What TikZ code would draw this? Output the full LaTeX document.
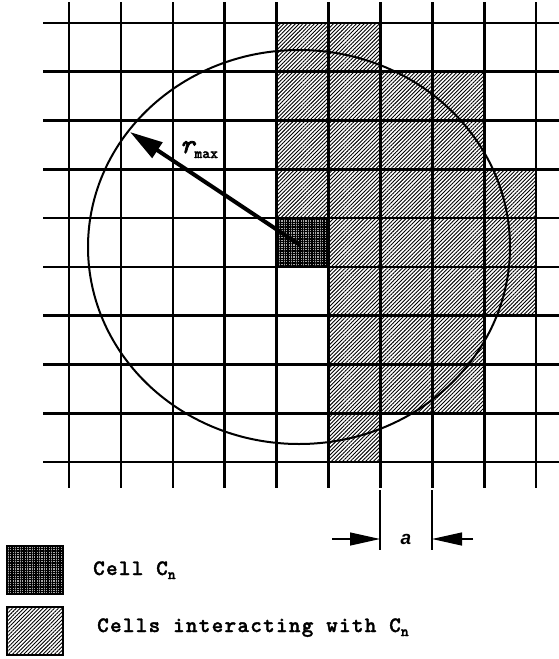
\documentclass[tikz,border=0pt]{standalone}
\usepackage{fontspec}
\usetikzlibrary{patterns.meta,arrows.meta}
\newfontfamily\courf{lmmonolt10-bold.otf}[FakeBold=1.5]
\newfontfamily\courls{lmmonolt10-bold.otf}[FakeBold=1.5,LetterSpace=6]
\newfontfamily\couri{lmmono10-italic.otf}[FakeBold=3]
\newfontfamily\sansf{Liberation Sans}
\tikzset{
  gridline/.style={line width=2.6pt},
  hatchcell/.style={pattern={Lines[angle=45,distance=2.7pt,line width=0.9pt]}},
  darkbase/.style={fill=black!35},
  darkcell/.style={pattern={Hatch[distance=2.4pt,line width=1.3pt]}},
  legbox/.style={line width=1.6pt},
  bigarrow/.style={line width=4pt,-{Triangle[length=33pt,width=18pt]}},
  dimarrow/.style={line width=1.2pt,-{Triangle[length=30pt,width=13pt]}},
  dimtick/.style={line width=1.5pt},
  legtext/.style={anchor=base west,inner sep=0pt,font=\courls\fontsize{22}{22}\selectfont},
}
\newcommand{\subn}{\raisebox{-4pt}{\courf\fontsize{15}{15}\selectfont n}}
\begin{document}
\begin{tikzpicture}[x=1pt,y=-1pt]
\useasboundingbox (0,0) rectangle (559,659);
% hatched cells
\foreach \i/\j in {4/0,5/0,
  4/1,5/1,6/1,7/1,
  4/2,5/2,6/2,7/2,
  4/3,5/3,6/3,7/3,8/3,
  5/4,6/4,7/4,8/4,
  5/5,6/5,7/5,8/5,
  5/6,6/6,7/6,
  5/7,6/7,7/7,
  5/8}
  \fill[hatchcell] ({69+51.9*\i},{23+48.78*\j}) rectangle ({69+51.9*(\i+1)},{23+48.78*(\j+1)});
% the cell C_n
\fill[darkbase] ({69+51.9*4},{23+48.78*4}) rectangle ({69+51.9*5},{23+48.78*5});
\fill[darkcell] ({69+51.9*4},{23+48.78*4}) rectangle ({69+51.9*5},{23+48.78*5});
% grid
\foreach \i in {0,...,9}
  \draw[gridline] ({69+51.9*\i},2) -- ({69+51.9*\i},488);
\foreach \j in {0,...,9}
  \draw[gridline] (43,{23+48.78*\j}) -- (559,{23+48.78*\j});
% interaction ellipse
\draw[line width=2pt] (299,247) ellipse [x radius=211, y radius=197];
% r_max arrow
\coordinate (cn) at (300,245);
\coordinate (tip) at (130,132);
\draw[bigarrow] (cn) -- (tip);
\node[anchor=base west,inner sep=0pt] (rmax) at (180,153)
  {{\couri\fontsize{27}{27}\selectfont r}\raisebox{-5pt}{\courf\fontsize{15}{15}\selectfont max}};
% dimension a
\coordinate (t1a) at (380,490); \coordinate (t1b) at (380,550);
\coordinate (t2a) at (432,490); \coordinate (t2b) at (432,550);
\draw[dimtick] (t1a) -- (t1b);
\draw[dimtick] (t2a) -- (t2b);
\coordinate (la) at (332,539); \coordinate (lb) at (380,539);
\coordinate (ra) at (473,539); \coordinate (rb) at (432,539);
\draw[dimarrow] (la) -- (lb);
\draw[dimarrow] (ra) -- (rb);
\node[anchor=base,inner sep=0pt,font=\sansf\bfseries\itshape\fontsize{19}{19}\selectfont] (a) at (406,544) {a};
% legend
\fill[darkbase] (7,546) rectangle (63,594);
\draw[legbox,darkcell] (7,546) rectangle (63,594);
\draw[legbox] (7,546) rectangle (63,594);
\draw[legbox,hatchcell] (7,607) rectangle (63,655);
\draw[legbox] (7,607) rectangle (63,655);
\node[legtext] (l1) at (93,575) {Cell C\subn};
\node[legtext] (l2) at (97,632) {Cells interacting with C\subn};
\end{tikzpicture}
\end{document}
